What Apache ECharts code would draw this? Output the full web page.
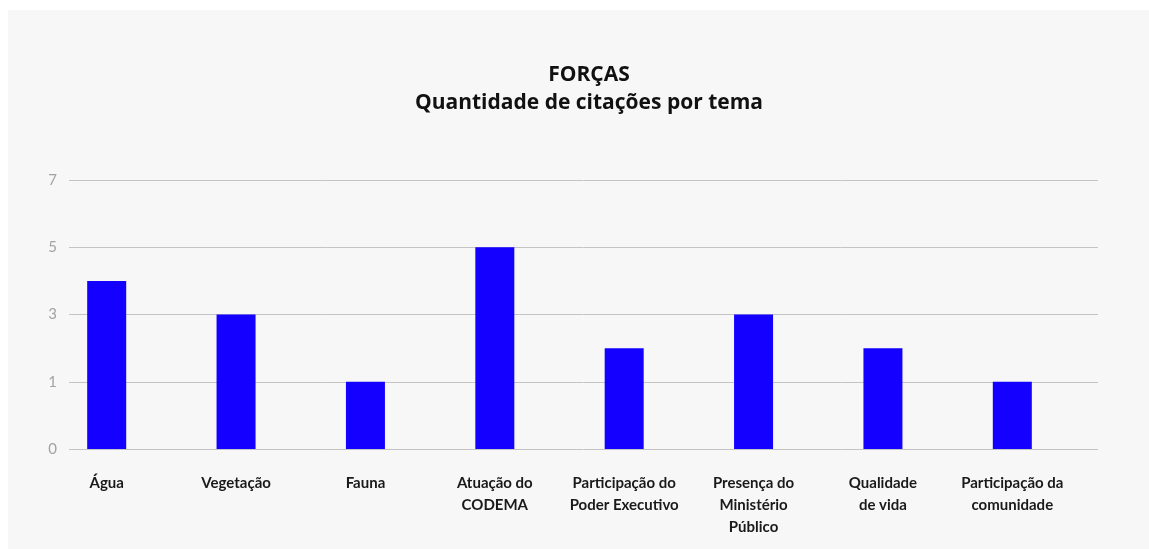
<!DOCTYPE html>
<html>
<head>
<meta charset="utf-8">
<script src="https://cdn.jsdelivr.net/npm/echarts@6/dist/echarts.min.js"></script>
<style>
  html, body { margin: 0; padding: 0; background: #ffffff; }
  #card { position: absolute; left: 8px; top: 10px; width: 1141px; height: 539px; background: #f7f7f7; }
  #chart { position: absolute; left: 0; top: 0; width: 1149px; height: 549px; }
</style>
</head>
<body>
<div id="card"></div>
<div id="chart"></div>
<script>
const categories = [
  'Água', 'Vegetação', 'Fauna', 'Atuação do\nCODEMA',
  'Participação do\nPoder Executivo', 'Presença do\nMinistério\nPúblico',
  'Qualidade\nde vida', 'Participação da\ncomunidade'
];
const citations = [4, 3, 1, 5, 2, 3, 2, 1];
// tick labels shown on the (piecewise) y axis, equally spaced
const tickLabels = [0, 1, 3, 5, 7];

// piecewise scale used by the reference: 0..1 takes one step, then 2 units per step
function toAxis(v) {
  for (let i = 1; i < tickLabels.length; i++) {
    const a = tickLabels[i - 1], b = tickLabels[i];
    if (v <= b) return (i - 1) + (v - a) / (b - a);
  }
  return tickLabels.length - 1;
}

const font = 'Lato, "Open Sans", sans-serif';
const titleFont = '"Open Sans", Lato, sans-serif';
const chart = echarts.init(document.getElementById('chart'));
chart.setOption({
  backgroundColor: 'transparent',
  animation: false,
  title: {
    text: 'FORÇAS\nQuantidade de citações por tema',
    left: 584,
    top: 56,
    textAlign: 'center',
    textStyle: { fontFamily: titleFont, fontSize: 21, fontWeight: 'bold', color: '#111111', lineHeight: 28 }
  },
  grid: [
    { left: 69, right: 51, top: 180, bottom: 100 },
    { left: 42, right: 72, top: 180, bottom: 100 }
  ],
  xAxis: [
    { type: 'category', gridIndex: 0, data: categories, show: false },
    {
      type: 'category', gridIndex: 1, data: categories,
      axisLine: { show: false }, axisTick: { show: false },
      axisLabel: { interval: 0, margin: 23, fontFamily: font, fontSize: 15, fontWeight: 'bold',
                   color: '#1a1a1a', lineHeight: 22, verticalAlign: 'top' }
    }
  ],
  yAxis: [
    {
      type: 'value', gridIndex: 0, min: 0, max: tickLabels.length - 1, interval: 1,
      axisLine: { show: false }, axisTick: { show: false },
      splitLine: { lineStyle: { color: '#c4c4c4', width: 1 } },
      axisLabel: { margin: 12, fontFamily: font, fontSize: 15, color: '#a3a3a3',
                   formatter: v => String(tickLabels[Math.round(v)]) }
    },
    {
      type: 'value', gridIndex: 1, min: 0, max: tickLabels.length - 1, interval: 1,
      show: false, splitLine: { show: false }
    }
  ],
  series: [{
    type: 'bar',
    xAxisIndex: 1, yAxisIndex: 1,
    barWidth: 39,
    itemStyle: { color: '#1400ff' },
    data: citations.map(v => ({ value: toAxis(v), raw: v }))
  }]
});
</script>
</body>
</html>
